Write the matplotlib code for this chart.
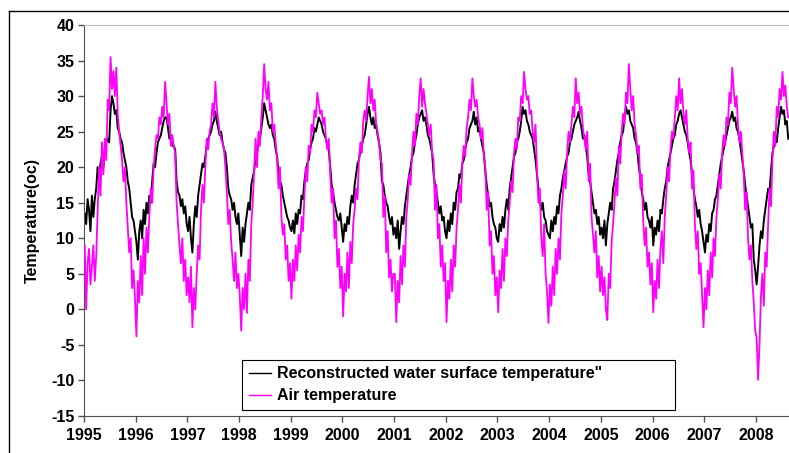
import numpy as np
import matplotlib
matplotlib.use("Agg")
import matplotlib.pyplot as plt
from matplotlib.lines import Line2D

plt.rcParams['font.family'] = ['Liberation Sans', 'DejaVu Sans']
plt.rcParams['font.weight'] = 'bold'

# values, roughly every 10 days (36 per year), one row per year from 1995
water_temp = [
    [13.5, 12, 15.5, 14, 11, 16, 13, 15.5, 17, 20, 19, 20.5, 21.5, 20, 22.5, 23.5, 24, 23.5, 28, 30, 29, 27.5, 28, 25.5, 25, 24, 23.5, 22, 21, 20, 18, 17, 15, 13, 12.5, 11],  # 1995
    [9.5, 7, 11, 12.5, 10, 14, 12, 15, 13.5, 16, 15, 18, 20.5, 20, 22, 23.5, 24, 24.5, 25.5, 26.5, 27, 27, 25.5, 24, 24.5, 23, 23, 22.5, 18, 16.5, 16, 14.5, 15.5, 13.5, 14.5, 12],  # 1996
    [11, 13, 10, 8, 12, 14.5, 13, 16, 17.5, 19, 20.5, 20, 21.5, 23, 24, 24.5, 25, 26, 26.5, 27.8, 26.5, 25.5, 24.5, 25, 23.5, 22.5, 22, 20, 17, 16, 15.5, 14, 15, 13, 12, 13.5],  # 1997
    [10.5, 7.5, 11.5, 9.5, 12, 13.5, 15, 14, 17.5, 18.5, 19.5, 21.5, 22, 23.5, 24, 25.5, 27, 29, 28, 27, 26, 25.5, 26, 24.5, 24, 22.5, 21.5, 19, 18, 17.5, 16, 15, 14, 13, 12.5, 11.5],  # 1998
    [11, 12.5, 10.7, 13.5, 12, 14, 13.5, 16, 15.5, 18, 19.5, 20.5, 21, 22.5, 23.5, 24, 25.5, 25, 26, 27, 26.5, 26, 25, 24.5, 24, 23, 22.5, 20, 17.5, 16.5, 15, 14, 13, 12.5, 13.5, 11.5],  # 1999
    [9.5, 12, 11, 13, 12, 14.5, 16, 15, 17.5, 19, 20.5, 21, 22.5, 23, 24, 24.5, 26, 27.5, 28.5, 27, 26, 27, 25.5, 26, 24.5, 23.5, 22, 18, 17.5, 16, 15, 14.5, 13, 12, 13, 10.5],  # 2000
    [11.5, 10, 12.5, 8.5, 11, 13, 12, 14.5, 16, 17.5, 19, 20, 21.5, 22, 23.5, 24.5, 26, 27, 27.5, 28, 26.5, 27, 26, 24.5, 24, 23, 22, 19, 17.5, 16.5, 15, 13.5, 14.5, 12.5, 13, 11],  # 2001
    [10, 12.5, 11, 13.5, 12, 15, 14, 16.5, 17, 19, 18.5, 20.5, 21, 22.5, 23.5, 24, 25.5, 26, 26.5, 27.8, 26, 27, 25, 25.5, 24, 23, 22, 19.5, 17.5, 16, 14.5, 15, 13, 12, 11.5, 10],  # 2002
    [9.5, 12, 11, 13, 11.5, 14, 15.5, 14, 17, 18.5, 20, 21.5, 22, 23.5, 24, 25, 26.5, 28.5, 27.5, 28, 26.5, 26, 25, 24.5, 24, 22.5, 21, 19, 17, 15.5, 14, 15, 13, 12.5, 11, 10.5],  # 2003
    [10, 12.5, 11, 13, 12, 14.5, 13.5, 16, 17, 18.5, 19.5, 20.5, 21.5, 22, 23.5, 24, 25, 26, 26.5, 27, 27.8, 26.5, 25.5, 24, 24.5, 23, 21.5, 19, 18, 16.5, 15, 13.5, 14, 12, 13, 10.5],  # 2004
    [11.5, 10, 12.5, 9, 12, 13.5, 15, 14, 17, 18, 19.5, 21, 22, 23.5, 24.5, 25, 27, 28.5, 27.5, 28, 26.5, 26, 25.5, 24, 23.5, 22, 20, 18.5, 16.5, 15.5, 14, 15, 13, 12.5, 11.5, 13],  # 2005
    [9, 11.5, 10.5, 12.5, 11, 14, 13.5, 15.5, 17, 18, 20, 21, 22, 23, 24, 24.5, 26, 26.5, 27.5, 28, 27, 26, 25, 24.5, 23.5, 22, 21, 19, 17, 15.5, 14.5, 13, 14, 12, 11, 9.5],  # 2006
    [8, 10.5, 9.5, 12, 11, 13.5, 14, 15.5, 16, 17.5, 19, 20.5, 21.5, 22.5, 23.5, 24.5, 25.5, 26.5, 27, 27.8, 26.5, 27, 25.5, 25, 24, 22.5, 21, 19.5, 17.5, 16, 14.5, 13, 11.5, 12, 7, 5.5],  # 2007
    [3.5, 6, 9, 11, 10, 12.5, 14, 15.5, 17, 16.5, 19.5, 22, 23, 24.5, 23.5, 25.5, 27, 28.5, 27.5, 28, 26, 26.5, 24],  # 2008 (to mid Aug)
]

air_temp = [
    [9, 0, 6.5, 8.5, 3.5, 6, 9, 4, 7.5, 14, 20, 16, 23.5, 19, 24, 21, 29.5, 28, 35.5, 31, 33.5, 30, 34, 27.5, 25, 23, 21, 18, 20, 15, 11.5, 8, 10, 3, 5.5, 1.5],  # 1995
    [-3.8, 4, 1, 7.5, 2, 10, 5, 11.5, 8, 13, 17, 15, 20, 22.5, 24.5, 24, 27, 26, 28.5, 27, 32, 29, 26, 27.5, 23, 24.5, 23, 22, 15, 12, 9, 6.5, 10, 4, 7, 2],  # 1996
    [4.5, 1, 6, -2.5, 3, 0, 5, 9, 7, 14, 17.5, 15, 20, 24, 22.5, 25, 26, 29, 27, 32, 28.5, 26.5, 25, 24, 23.5, 22.5, 20, 16.5, 12, 14, 9.5, 7, 4, 8, 3, 5],  # 1997
    [2, -3, 3, 0, 5, -0.5, 7, 4, 12, 15, 19.5, 24, 20, 25, 23, 27, 30, 34.5, 31, 29.5, 32, 28, 29, 25, 26, 23.5, 21, 17, 20, 13, 10.5, 12, 7, 9, 4, 6.5],  # 1998
    [1.5, 7, 4, 9, 5.5, 10.5, 8, 13, 11, 16, 20, 18, 23, 22, 26, 25, 28, 27, 30.5, 29, 27.5, 28, 26, 27, 24, 22.5, 24, 19, 15, 17, 10, 12.5, 6, 8.5, 3, 6],  # 1999
    [-1, 5, 2.5, 8, 3, 9.5, 6.5, 12, 14, 17, 15.5, 21, 23.5, 22, 26.5, 28, 26.5, 30, 32.7, 29, 31, 28, 29.5, 26, 25, 23.5, 21, 20.5, 13, 16, 8, 11, 4.5, 7, 2.5, 5],  # 2000
    [5, -1.8, 4, 1, 7.5, 3.5, 9, 6, 13, 15.5, 19, 17.5, 22, 25, 23, 27.5, 26, 30, 32.5, 28.5, 31, 29, 27.5, 26, 24.5, 26, 22, 21, 14, 17.5, 10, 12, 6, 9, 4, 6.5],  # 2001
    [-1.8, 4, 1.5, 7, 2.5, 9, 6, 11.5, 14, 17.5, 15, 20.5, 23, 21.5, 25.5, 27, 29.5, 28, 32.5, 30, 28.5, 29.5, 27, 26, 24, 25.5, 21.5, 20, 14, 16.5, 9, 11, 5, 7.5, 2, 4.5],  # 2002
    [-0.4, 5.5, 3, 8.5, 4, 10, 7.5, 12.5, 15, 18, 16.5, 22, 24, 22.5, 27, 26.5, 30, 29, 33.4, 31, 29.5, 30, 27.5, 28, 25, 23.5, 26, 19.5, 15, 17, 10, 7.5, 12, 5, 2.5, -1.9],  # 2003
    [3.5, 0.5, 6, 2, 8.5, 5, 10, 7, 13.5, 16, 19.5, 17, 22, 25, 23.5, 26, 28.5, 27, 32.5, 29, 30.5, 27.5, 28.5, 25.5, 24, 22.5, 25, 18, 20.5, 13, 10.5, 8, 11, 4.5, 7.5, 2.5],  # 2004
    [6, 2, 4.5, 0, -1.5, 5, 3, 9.5, 12, 15, 18.5, 16, 23, 20.5, 25, 27.5, 26, 30.5, 29, 34.5, 31, 28, 30, 26, 24.5, 22, 23, 17, 19, 12.5, 9, 11.5, 6, 8, 3.5, 6.5],  # 2005
    [-0.4, 4, 1.5, 7, 3, 8.5, 11, 6.5, 13, 16, 20, 18, 22.5, 25, 24, 27, 30, 28, 32.5, 29, 31, 27.5, 26, 28, 24, 22, 23.5, 17, 19.5, 12, 8.5, 11, 5, 6.5, 2, -2.5],  # 2006
    [3, 0, 5.5, 2, 8, 4.5, 10, 7.5, 13, 15.5, 19, 17, 22, 24.5, 23, 27, 26, 30.5, 29, 34, 31, 28.5, 30, 26, 23.5, 25, 22, 19, 14, 16.5, 10, 7, 9, 4, 1, -3],  # 2007
    [-4, -9.9, -5, 2, 5, 0.5, 8, 6, 12, 17, 14.5, 21, 25, 23, 28.5, 27, 31, 29.5, 33.4, 30, 31.5, 28.5, 27],  # 2008 (to mid Aug)
]

first_year = 1995
year_ticks = list(range(1995, 2009))
y_ticks = list(range(-15, 41, 5))


def decimal_time(rows):
    t = []
    for k, row in enumerate(rows):
        t.extend(first_year + k + (np.arange(len(row)) + 0.5) / 36.0)
    return np.array(t)


t_water = decimal_time(water_temp)
t_air = decimal_time(air_temp)
water = np.concatenate([np.array(r, dtype=float) for r in water_temp])
air = np.concatenate([np.array(r, dtype=float) for r in air_temp])

fig = plt.figure(figsize=(7.89, 4.53), dpi=100)
ax = fig.add_axes([84 / 789, 37 / 453, 705 / 789, 391 / 453])

ax.plot(t_water, water, color='black', lw=1.4, label='Reconstructed water surface temperature"', zorder=2)
ax.plot(t_air, air, color='#FF00FF', lw=1.3, label='Air temperature', zorder=3)

ax.set_xlim(1995, 2008.64)
ax.set_ylim(-15, 40)
ax.set_xticks(year_ticks)
ax.set_xticklabels([str(y) for y in year_ticks], fontsize=11.5, fontweight='bold')
ax.set_yticks(y_ticks)
ax.set_yticklabels([str(v) for v in y_ticks], fontsize=11.5, fontweight='bold')
ax.tick_params(axis='both', direction='out', length=4, width=1, color='#505050', pad=3)
ax.tick_params(axis='x', pad=5)
ax.set_ylabel('Temperature(oc)', fontsize=11.5, fontweight='bold', labelpad=8)

ax.spines['right'].set_visible(False)
ax.spines['top'].set_color('#b8b8b8')
ax.spines['left'].set_color('#505050')
ax.spines['bottom'].set_color('#505050')

leg = ax.legend(loc='upper left', bbox_to_anchor=(0.213, 0.164, 0.637, 0.0), mode='expand',
                fancybox=False, framealpha=1, edgecolor='black', handlelength=1.4,
                handletextpad=0.4, borderpad=0.4, labelspacing=0.45,
                prop={'weight': 'bold', 'size': 11.5})
leg.get_frame().set_linewidth(0.8)
for h in leg.get_lines():
    h.set_linewidth(1.0)

# outer chart border (clipped by the image on the right and bottom)
fig.add_artist(Line2D([8.5 / 789, 8.5 / 789], [0, 1 - 10.5 / 453], color='black', lw=1, transform=fig.transFigure))
fig.add_artist(Line2D([8.5 / 789, 1], [1 - 10.5 / 453, 1 - 10.5 / 453], color='black', lw=1, transform=fig.transFigure))

fig.savefig('out.png', dpi=100)
